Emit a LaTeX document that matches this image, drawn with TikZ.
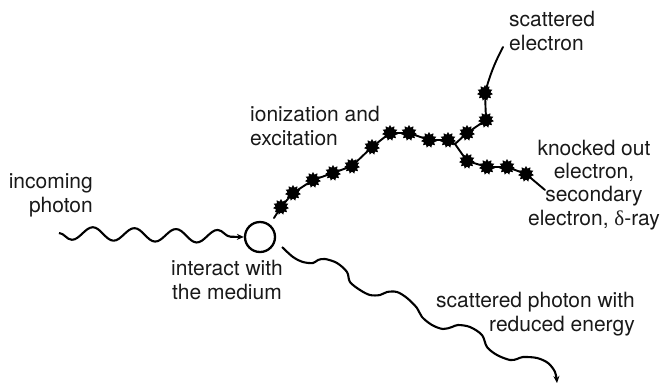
\documentclass[tikz,border=0pt]{standalone}
\usepackage{fontspec}
\setmainfont{TeX Gyre Heros}
\newfontfamily\greekfont{Liberation Serif}
\usetikzlibrary{arrows.meta,shapes.geometric,decorations.pathmorphing}
\begin{document}
\begin{tikzpicture}[x=1pt,y=-1pt,
  lbl/.style={inner sep=0pt, font=\fontsize{21}{23.2}\selectfont, text=black!90},
  bead/.style={star, star points=11, star point ratio=1.45, minimum size=16pt,
    inner sep=0pt, fill=black, draw=none},
  track/.style={line width=1.9pt, line join=round, line cap=round},
  photon/.style={line width=2.1pt, line join=round, -{Stealth[length=7pt,width=6pt]}},
  wave/.style={decorate, decoration={snake, mirror, segment length=41.6pt, amplitude=6.5pt, post length=3pt}},
]
\useasboundingbox (0,0) rectangle (665,384);

% interaction point
\node[circle, draw, line width=2.3pt, minimum size=30pt, inner sep=0pt] (circ) at (260,237) {};

% incoming photon
\coordinate (inStart) at (59,233);
\draw[photon, wave] (inStart) -- (circ.west);

% scattered photon
\coordinate (outStart) at (282,247);
\coordinate (outEnd) at (557,383);
\draw[photon] plot[smooth, tension=0.55] coordinates {
  (outStart) (293,257) (303,262) (313,263) (318,260) (325,259) (337,263)
  (347,272) (350,282) (360,290) (370,295) (380,295) (387,292) (397,292)
  (407,298) (417,308) (422,317) (432,325) (443,329) (452,327) (458,325)
  (470,327) (482,335) (487,347) (497,355) (510,360) (517,359) (523,357)
  (537,358) (548,363) (555,372) (outEnd)};

% electron track: ionization beads
\coordinate (s0) at (274,218);
\node[bead] (b1) at (281,207) {};
\node[bead] (b2) at (293,193) {};
\node[bead] (b3) at (313,180) {};
\node[bead] (b4) at (333,173) {};
\node[bead] (b5) at (352,166) {};
\node[bead] (b6) at (372,147) {};
\node[bead] (b7) at (390,133) {};
\node[bead] (b8) at (409,133) {};
\node[bead] (b9) at (429,140) {};
\node[bead] (b10) at (448,140) {};
\coordinate (fork) at (455,144);
% scattered electron branch
\node[bead] (u1) at (467,133) {};
\node[bead] (u2) at (486,120) {};
\node[bead] (u3) at (485,93) {};
\coordinate (uEnd) at (503,47);
% knocked-out electron branch
\node[bead] (l1) at (467,161) {};
\node[bead] (l2) at (487,167) {};
\node[bead] (l3) at (507,167) {};
\node[bead] (l4) at (526,174) {};
\coordinate (lEnd) at (545,190);

\draw[track] (s0) -- (b1.center) -- (b2.center) -- (b3.center) -- (b4.center)
  -- (b5.center) -- (b6.center) -- (b7.center) -- (b8.center) -- (b9.center)
  -- (b10.center) -- (fork);
\draw[track] (fork) -- (u1.center) -- (u2.center) -- (u3.center) to[bend left=6] (uEnd);
\draw[track] (fork) -- (l1.center) -- (l2.center) -- (l3.center) -- (l4.center) -- (lEnd);

% labels (base anchor sits on the last line)
\node[lbl, align=right, anchor=base east] (tIn) at (93,212) {incoming\\photon};
\node[lbl, align=left, anchor=base west] (tSe) at (509,50) {scattered\\electron};
\node[lbl, align=left, anchor=base west] (tIon) at (250,145) {ionization and\\excitation};
\node[lbl, align=center, anchor=base] (tKo) at (594,225)
  {knocked out\\electron,\\secondary\\electron, {\greekfont δ}-ray};
\node[lbl, align=center, anchor=base] (tMed) at (227,299) {interact with\\the medium};
\node[lbl, align=right, anchor=base east] (tSp) at (635,331) {scattered photon with\\reduced energy};
\end{tikzpicture}
\end{document}
